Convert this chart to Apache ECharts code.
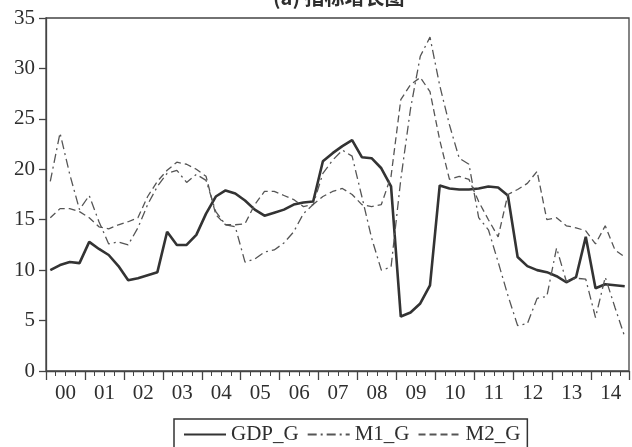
<!DOCTYPE html>
<html><head><meta charset="utf-8">
<script src="https://cdn.jsdelivr.net/npm/echarts@6/dist/echarts.min.js"></script>
<style>html,body{margin:0;padding:0;background:#fff}#c{width:632px;height:447px}</style>
</head><body><div id="c"></div>
<script>
// Quarterly data 2000Q1 .. 2014Q4
const yearLabels = ['00','01','02','03','04','05','06','07','08','09','10','11','12','13','14'];
const seriesNames = ['GDP_G','M1_G','M2_G'];
const titleText = '(a) 指标增长图';
const gdp = [10.0,10.5,10.8,10.7, 12.8,12.1,11.5,10.4, 9.0,9.2,9.5,9.8, 13.8,12.5,12.5,13.5,
  15.6,17.3,17.9,17.6, 16.9,16.0,15.4,15.7, 16.0,16.5,16.7,16.8, 20.8,21.6,22.3,22.9,
  21.2,21.1,20.1,18.3, 5.4,5.8,6.7,8.5, 18.4,18.1,18.0,18.0, 18.1,18.3,18.2,17.4,
  11.3,10.4,10.0,9.8, 9.4,8.8,9.3,13.3, 8.2,8.6,8.5,8.4];
const m1 = [18.8,23.6,19.5,16.0, 17.4,14.8,12.6,12.8, 12.5,14.2,16.5,18.3, 19.6,19.9,18.7,19.5,
  18.9,15.8,14.5,14.3, 10.8,11.1,11.8,12.0, 12.7,13.8,15.6,16.5, 19.6,20.9,21.9,21.3,
  17.3,13.2,10.0,10.3, 19.0,26.0,31.2,33.1, 28.3,24.4,21.1,20.5, 15.2,14.0,10.8,7.5,
  4.5,4.7,7.2,7.4, 12.2,8.9,9.2,9.1, 5.3,9.3,6.3,3.4];
const m2 = [15.2,16.1,16.1,15.8, 15.2,14.3,14.1,14.5, 14.8,15.2,17.3,18.8, 19.9,20.7,20.5,20.0,
  19.3,15.5,14.5,14.5, 14.6,16.5,17.8,17.8, 17.4,17.0,16.3,16.5, 17.3,17.8,18.1,17.5,
  16.5,16.3,16.5,19.3, 26.9,28.4,29.1,27.7, 22.9,19.0,19.3,19.0, 16.8,15.0,13.3,17.5,
  18.0,18.6,19.8,15.0, 15.2,14.4,14.2,13.9, 12.6,14.4,12.0,11.3];

const FONT = '"Liberation Serif", "Times New Roman", serif';
const TXT = '#2e2e2e';
const AX = '#444';
const tickMax = 59.88;   // quarters spanned by the plot box
const obsOffset = 0.44;  // observations sit a bit right of the year ticks

const chart = echarts.init(document.getElementById('c'), null, {renderer: 'canvas'});
const toPairs = arr => arr.map((v, i) => [i, v]);

chart.setOption({
  animation: false,
  backgroundColor: '#fff',
  title: {
    text: titleText, left: 268, top: -18,
    textStyle: {fontFamily: '"Noto Sans CJK SC"', fontWeight: 'bold', fontSize: 20, color: TXT}
  },
  legend: {
    left: 174, top: 419,
    padding: [5, 7, 14, 9],
    borderColor: '#333', borderWidth: 1.5,
    itemWidth: 42, itemHeight: 14, itemGap: 8,
    itemStyle: {opacity: 0},
    textStyle: {fontFamily: FONT, fontSize: 21, color: TXT},
    data: seriesNames
  },
  grid: {left: 46, top: 18, right: -2, bottom: 76, show: true, borderColor: AX, borderWidth: 1.3, backgroundColor: 'transparent'},
  xAxis: [
    { // ticks
      type: 'value', min: 0, max: tickMax, interval: 4, position: 'bottom',
      axisLine: {show: true, lineStyle: {color: AX, width: 1.3}},
      axisTick: {show: true, length: 9, lineStyle: {color: AX, width: 1.3}},
      minorTick: {show: true, splitNumber: 4, length: 5, lineStyle: {color: AX, width: 1}},
      axisLabel: {show: false}, splitLine: {show: false}
    },
    { // data axis
      type: 'value', min: -obsOffset, max: tickMax - obsOffset, show: false, splitLine: {show: false}
    },
    { // year labels, centred between year ticks
      type: 'value', min: 0, max: tickMax, interval: 2, position: 'bottom',
      axisLine: {show: false}, axisTick: {show: false}, splitLine: {show: false},
      axisLabel: {
        margin: 12, fontFamily: FONT, fontSize: 21, color: TXT,
        formatter: v => (v % 4 === 2 ? yearLabels[(v - 2) / 4] : '')
      }
    }
  ],
  yAxis: {
    type: 'value', min: 0, max: 35, interval: 5,
    axisLine: {show: true, lineStyle: {color: AX, width: 1.3}},
    axisTick: {show: true, length: 7, lineStyle: {color: AX, width: 1.3}},
    axisLabel: {margin: 11, fontFamily: FONT, fontSize: 21, color: TXT},
    splitLine: {show: false}
  },
  series: [
    {name: seriesNames[0], type: 'line', xAxisIndex: 1, data: toPairs(gdp), symbol: 'none',
     lineStyle: {color: '#333', width: 2.6, type: 'solid'}, itemStyle: {color: '#333'}},
    {name: seriesNames[1], type: 'line', xAxisIndex: 1, data: toPairs(m1), symbol: 'none',
     lineStyle: {color: '#555', width: 1.3, type: [9, 4, 2, 4]}, itemStyle: {color: '#555'}},
    {name: seriesNames[2], type: 'line', xAxisIndex: 1, data: toPairs(m2), symbol: 'none',
     lineStyle: {color: '#555', width: 1.3, type: [7, 4]}, itemStyle: {color: '#555'}}
  ]
});
</script></body></html>
